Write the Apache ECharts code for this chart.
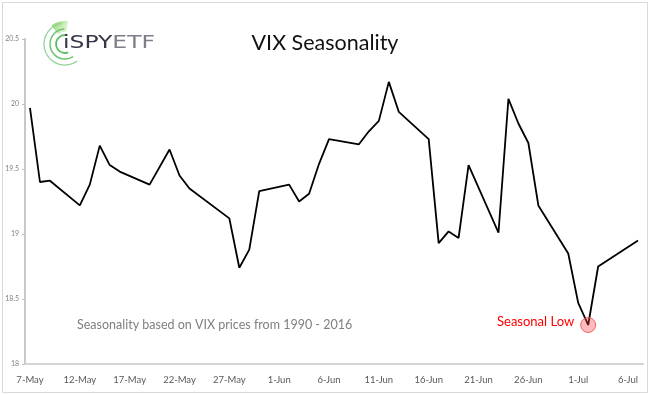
<!DOCTYPE html>
<html>
<head>
<meta charset="utf-8">
<script src="https://cdn.jsdelivr.net/npm/echarts@6/dist/echarts.min.js"></script>
<style>html,body{margin:0;padding:0;background:#fff}#c{width:650px;height:395px}</style>
</head>
<body>
<div id="c"></div>
<script>
// All calendar days on the date axis (7-May .. 7-Jul)
const categories = [
 '7-May','8-May','9-May','10-May','11-May','12-May','13-May','14-May','15-May','16-May',
 '17-May','18-May','19-May','20-May','21-May','22-May','23-May','24-May','25-May','26-May',
 '27-May','28-May','29-May','30-May','31-May','1-Jun','2-Jun','3-Jun','4-Jun','5-Jun',
 '6-Jun','7-Jun','8-Jun','9-Jun','10-Jun','11-Jun','12-Jun','13-Jun','14-Jun','15-Jun',
 '16-Jun','17-Jun','18-Jun','19-Jun','20-Jun','21-Jun','22-Jun','23-Jun','24-Jun','25-Jun',
 '26-Jun','27-Jun','28-Jun','29-Jun','30-Jun','1-Jul','2-Jul','3-Jul','4-Jul','5-Jul',
 '6-Jul','7-Jul'
];
// Dates that carry a value, and the seasonal VIX value on each
const pointDates = [
 '7-May','8-May','9-May','12-May','13-May','14-May','15-May','16-May','19-May','21-May',
 '22-May','23-May','27-May','28-May','29-May','30-May','2-Jun','3-Jun','4-Jun','5-Jun',
 '6-Jun','9-Jun','10-Jun','11-Jun','12-Jun','13-Jun','16-Jun','17-Jun','18-Jun','19-Jun',
 '20-Jun','23-Jun','24-Jun','25-Jun','26-Jun','27-Jun','30-Jun','1-Jul','2-Jul','3-Jul','7-Jul'
];
const vixValues = [
 19.97,19.40,19.41,19.22,19.38,19.68,19.53,19.48,19.38,19.65,
 19.45,19.35,19.12,18.74,18.88,19.33,19.38,19.25,19.31,19.54,
 19.73,19.69,19.79,19.87,20.17,19.94,19.73,18.93,19.02,18.97,
 19.53,19.01,20.04,19.85,19.70,19.22,18.85,18.47,18.30,18.75,18.95
];
const yTicks = {min: 18, max: 20.5, interval: 0.5};
const lowDate = '2-Jul';

const seriesData = categories.map(function (d) {
  const i = pointDates.indexOf(d);
  return i >= 0 ? vixValues[i] : null;
});
const lowIdx = categories.indexOf(lowDate);

const chart = echarts.init(document.getElementById('c'), null, {renderer: 'canvas'});
const green = '#5dbb63';
chart.setOption({
  animation: false,
  backgroundColor: '#fff',
  grid: {left: 25, right: 7, top: 39, bottom: 31, containLabel: false},
  xAxis: {
    type: 'category',
    data: categories,
    boundaryGap: true,
    axisLine: {lineStyle: {color: '#d4d4d4', width: 2}},
    axisTick: {show: false},
    axisLabel: {interval: 4, color: '#595959', fontSize: 9.5, fontFamily: 'Lato', margin: 11},
    splitLine: {show: false}
  },
  yAxis: {
    type: 'value',
    min: yTicks.min, max: yTicks.max, interval: yTicks.interval,
    axisLine: {show: true, lineStyle: {color: '#c8c8c8', width: 2}},
    axisTick: {show: true, length: 3, lineStyle: {color: '#bfbfbf'}},
    axisLabel: {color: '#7f7f7f', fontSize: 7, fontFamily: 'Lato', margin: 6},
    splitLine: {show: false}
  },
  series: [{
    type: 'line',
    data: seriesData,
    connectNulls: true,
    showSymbol: false,
    symbol: 'none',
    lineStyle: {color: '#000', width: 1.8},
    markPoint: {
      symbol: 'circle',
      symbolSize: 15,
      label: {show: false},
      itemStyle: {color: 'rgba(255,60,60,0.35)', borderColor: 'rgba(235,90,90,0.9)', borderWidth: 1},
      data: [{coord: [lowIdx, vixValues[pointDates.indexOf(lowDate)]]}]
    }
  }],
  graphic: [
    {type: 'rect', shape: {x: 2.5, y: 2.5, width: 645, height: 390}, style: {fill: 'none', stroke: '#d9d9d9', lineWidth: 1}, silent: true, z: -1},
    {type: 'text', left: 'center', top: 32, style: {text: 'VIX Seasonality', fontSize: 21.5, fontFamily: 'Lato', fill: '#111'}},
    {type: 'text', left: 77, top: 318, style: {text: 'Seasonality based on VIX prices from 1990 - 2016', fontSize: 12.5, fontFamily: 'Lato', fill: '#7f7f7f'}},
    {type: 'text', left: 497, top: 315, style: {text: 'Seasonal Low', fontSize: 13, fontFamily: 'Lato', fill: '#ff0000'}},
    // logo
    {type: 'sector', shape: {cx: 65, cy: 44, r0: 12, r: 23, startAngle: -2.2, endAngle: -1.45}, style: {fill: new echarts.graphic.LinearGradient(0,0,1,1,[{offset:0,color:'rgba(110,200,60,0.9)'},{offset:1,color:'rgba(200,235,180,0.3)'}])}},
    {type: 'arc', shape: {cx: 65, cy: 44, r: 21, startAngle: -1.75, endAngle: 0.95, clockwise: false}, style: {stroke: '#8fd39a', lineWidth: 1.3, fill: 'none'}},
    {type: 'arc', shape: {cx: 65, cy: 44, r: 15, startAngle: -1.6, endAngle: 1.0, clockwise: false}, style: {stroke: '#6cc477', lineWidth: 1.5, fill: 'none'}},
    {type: 'arc', shape: {cx: 65, cy: 44, r: 9, startAngle: -1.4, endAngle: 1.2, clockwise: false}, style: {stroke: green, lineWidth: 1.8, fill: 'none'}},
    {type: 'text', x: 63, y: 35, scaleX: 1.38, style: {text: '{a|iSPY}{b|ETF}', rich: {
      a: {fontSize: 17, fontFamily: 'DejaVu Sans', fill: '#343646'},
      b: {fontSize: 17, fontFamily: 'DejaVu Sans', fill: '#7d7f88'}
    }}}
  ]
});
</script>
</body>
</html>
